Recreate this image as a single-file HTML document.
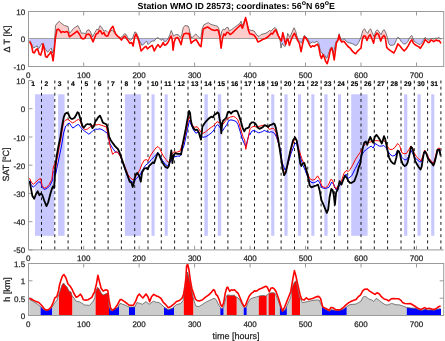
<!DOCTYPE html><html><head><meta charset="utf-8"><style>html,body{margin:0;padding:0;background:#fff;width:445px;height:341px;overflow:hidden}</style></head><body><svg width="445" height="341" viewBox="0 0 445 341" style="display:block;will-change:transform;text-rendering:geometricPrecision;font-family:'Liberation Sans',sans-serif">
<rect width="445" height="341" fill="#fff"/>
<defs>
<clipPath id="cTopPos"><rect x="28.5" y="11.5" width="415.2" height="27.0"/></clipPath>
<clipPath id="cTopNeg"><rect x="28.5" y="38.5" width="415.2" height="28.0"/></clipPath>
<clipPath id="cBot"><rect x="28.5" y="263.5" width="415.2" height="52.0"/></clipPath>
</defs>
<line x1="83.7" y1="66.5" x2="83.7" y2="62.5" stroke="#9a9a9a" stroke-width="1"/>
<line x1="83.7" y1="11.5" x2="83.7" y2="15.5" stroke="#9a9a9a" stroke-width="1"/>
<line x1="139.1" y1="66.5" x2="139.1" y2="62.5" stroke="#9a9a9a" stroke-width="1"/>
<line x1="139.1" y1="11.5" x2="139.1" y2="15.5" stroke="#9a9a9a" stroke-width="1"/>
<line x1="194.6" y1="66.5" x2="194.6" y2="62.5" stroke="#9a9a9a" stroke-width="1"/>
<line x1="194.6" y1="11.5" x2="194.6" y2="15.5" stroke="#9a9a9a" stroke-width="1"/>
<line x1="250.1" y1="66.5" x2="250.1" y2="62.5" stroke="#9a9a9a" stroke-width="1"/>
<line x1="250.1" y1="11.5" x2="250.1" y2="15.5" stroke="#9a9a9a" stroke-width="1"/>
<line x1="305.5" y1="66.5" x2="305.5" y2="62.5" stroke="#9a9a9a" stroke-width="1"/>
<line x1="305.5" y1="11.5" x2="305.5" y2="15.5" stroke="#9a9a9a" stroke-width="1"/>
<line x1="361.0" y1="66.5" x2="361.0" y2="62.5" stroke="#9a9a9a" stroke-width="1"/>
<line x1="361.0" y1="11.5" x2="361.0" y2="15.5" stroke="#9a9a9a" stroke-width="1"/>
<line x1="416.5" y1="66.5" x2="416.5" y2="62.5" stroke="#9a9a9a" stroke-width="1"/>
<line x1="416.5" y1="11.5" x2="416.5" y2="15.5" stroke="#9a9a9a" stroke-width="1"/>
<line x1="28.5" y1="11.5" x2="32.5" y2="11.5" stroke="#9a9a9a" stroke-width="1"/>
<line x1="443.7" y1="11.5" x2="439.7" y2="11.5" stroke="#9a9a9a" stroke-width="1"/>
<line x1="28.5" y1="38.5" x2="32.5" y2="38.5" stroke="#9a9a9a" stroke-width="1"/>
<line x1="443.7" y1="38.5" x2="439.7" y2="38.5" stroke="#9a9a9a" stroke-width="1"/>
<line x1="28.5" y1="66.5" x2="32.5" y2="66.5" stroke="#9a9a9a" stroke-width="1"/>
<line x1="443.7" y1="66.5" x2="439.7" y2="66.5" stroke="#9a9a9a" stroke-width="1"/>
<line x1="83.7" y1="249.9" x2="83.7" y2="245.9" stroke="#9a9a9a" stroke-width="1"/>
<line x1="139.1" y1="249.9" x2="139.1" y2="245.9" stroke="#9a9a9a" stroke-width="1"/>
<line x1="194.6" y1="249.9" x2="194.6" y2="245.9" stroke="#9a9a9a" stroke-width="1"/>
<line x1="250.1" y1="249.9" x2="250.1" y2="245.9" stroke="#9a9a9a" stroke-width="1"/>
<line x1="305.5" y1="249.9" x2="305.5" y2="245.9" stroke="#9a9a9a" stroke-width="1"/>
<line x1="361.0" y1="249.9" x2="361.0" y2="245.9" stroke="#9a9a9a" stroke-width="1"/>
<line x1="416.5" y1="249.9" x2="416.5" y2="245.9" stroke="#9a9a9a" stroke-width="1"/>
<line x1="28.5" y1="80.5" x2="32.5" y2="80.5" stroke="#9a9a9a" stroke-width="1"/>
<line x1="28.5" y1="108.7" x2="32.5" y2="108.7" stroke="#9a9a9a" stroke-width="1"/>
<line x1="28.5" y1="137.0" x2="32.5" y2="137.0" stroke="#9a9a9a" stroke-width="1"/>
<line x1="28.5" y1="165.2" x2="32.5" y2="165.2" stroke="#9a9a9a" stroke-width="1"/>
<line x1="28.5" y1="193.4" x2="32.5" y2="193.4" stroke="#9a9a9a" stroke-width="1"/>
<line x1="28.5" y1="221.7" x2="32.5" y2="221.7" stroke="#9a9a9a" stroke-width="1"/>
<line x1="28.5" y1="249.9" x2="32.5" y2="249.9" stroke="#9a9a9a" stroke-width="1"/>
<line x1="83.7" y1="315.5" x2="83.7" y2="311.5" stroke="#9a9a9a" stroke-width="1"/>
<line x1="83.7" y1="263.5" x2="83.7" y2="267.5" stroke="#9a9a9a" stroke-width="1"/>
<line x1="139.1" y1="315.5" x2="139.1" y2="311.5" stroke="#9a9a9a" stroke-width="1"/>
<line x1="139.1" y1="263.5" x2="139.1" y2="267.5" stroke="#9a9a9a" stroke-width="1"/>
<line x1="194.6" y1="315.5" x2="194.6" y2="311.5" stroke="#9a9a9a" stroke-width="1"/>
<line x1="194.6" y1="263.5" x2="194.6" y2="267.5" stroke="#9a9a9a" stroke-width="1"/>
<line x1="250.1" y1="315.5" x2="250.1" y2="311.5" stroke="#9a9a9a" stroke-width="1"/>
<line x1="250.1" y1="263.5" x2="250.1" y2="267.5" stroke="#9a9a9a" stroke-width="1"/>
<line x1="305.5" y1="315.5" x2="305.5" y2="311.5" stroke="#9a9a9a" stroke-width="1"/>
<line x1="305.5" y1="263.5" x2="305.5" y2="267.5" stroke="#9a9a9a" stroke-width="1"/>
<line x1="361.0" y1="315.5" x2="361.0" y2="311.5" stroke="#9a9a9a" stroke-width="1"/>
<line x1="361.0" y1="263.5" x2="361.0" y2="267.5" stroke="#9a9a9a" stroke-width="1"/>
<line x1="416.5" y1="315.5" x2="416.5" y2="311.5" stroke="#9a9a9a" stroke-width="1"/>
<line x1="416.5" y1="263.5" x2="416.5" y2="267.5" stroke="#9a9a9a" stroke-width="1"/>
<line x1="28.5" y1="263.5" x2="32.5" y2="263.5" stroke="#9a9a9a" stroke-width="1"/>
<line x1="443.7" y1="263.5" x2="439.7" y2="263.5" stroke="#9a9a9a" stroke-width="1"/>
<line x1="28.5" y1="280.8" x2="32.5" y2="280.8" stroke="#9a9a9a" stroke-width="1"/>
<line x1="443.7" y1="280.8" x2="439.7" y2="280.8" stroke="#9a9a9a" stroke-width="1"/>
<line x1="28.5" y1="298.2" x2="32.5" y2="298.2" stroke="#9a9a9a" stroke-width="1"/>
<line x1="443.7" y1="298.2" x2="439.7" y2="298.2" stroke="#9a9a9a" stroke-width="1"/>
<line x1="28.5" y1="315.5" x2="32.5" y2="315.5" stroke="#9a9a9a" stroke-width="1"/>
<line x1="443.7" y1="315.5" x2="439.7" y2="315.5" stroke="#9a9a9a" stroke-width="1"/>
<polygon points="29.5,38.5 29.5,40.3 30.1,41.0 32.2,45.3 33.6,48.1 35.7,46.7 37.2,46.0 38.6,48.8 40.0,46.7 42.1,43.2 43.5,45.3 45.6,49.5 47.7,52.3 49.8,49.5 51.2,48.1 52.6,53.0 54.1,48.8 55.5,25.6 57.6,22.7 59.3,21.3 60.7,22.7 62.5,24.2 64.6,25.6 68.0,26.5 69.4,33.3 70.8,31.9 73.6,28.4 75.7,27.0 77.9,25.6 80.0,29.8 81.4,33.3 83.5,33.0 85.6,34.0 87.0,30.5 89.1,29.8 90.5,31.9 92.6,36.8 94.8,32.6 96.9,29.1 98.3,29.8 100.1,25.6 101.8,27.7 103.9,31.2 106.0,30.5 108.0,32.5 110.1,31.9 112.2,29.8 114.3,32.6 116.5,35.4 118.6,36.8 120.7,37.5 122.8,36.1 124.6,33.6 126.3,34.7 128.4,38.9 130.5,40.4 132.6,38.2 134.8,31.9 136.2,32.6 137.9,36.1 139.7,41.1 141.8,45.3 143.9,43.9 145.3,42.5 146.7,41.1 148.0,44.6 150.1,42.5 152.2,41.1 154.3,41.1 155.7,38.9 157.6,37.5 159.3,38.7 161.0,40.4 162.8,38.9 164.6,41.8 166.3,41.1 168.4,38.2 169.8,34.7 171.2,30.5 172.2,32.6 173.4,36.1 175.5,34.7 178.3,34.7 180.4,37.5 181.8,34.7 183.2,27.7 184.9,25.6 188.0,26.0 189.1,28.4 190.1,33.3 191.5,38.2 193.6,36.1 195.7,34.0 197.2,35.4 199.0,37.5 200.7,38.9 202.1,29.1 203.8,24.9 206.3,23.5 208.4,22.7 210.5,24.2 212.6,24.9 215.5,25.6 217.6,26.3 219.0,29.1 220.4,37.5 221.8,31.2 223.2,29.1 224.9,29.8 226.3,27.7 228.0,27.3 229.4,31.0 231.5,29.6 234.3,27.5 237.2,25.4 240.0,23.3 241.0,21.2 242.1,25.4 243.8,22.6 245.6,18.3 247.0,23.3 248.8,29.6 251.2,30.3 254.1,31.0 256.9,35.2 259.0,36.6 261.1,34.5 263.9,33.8 266.0,33.1 268.0,32.0 269.4,30.5 271.1,31.2 272.9,29.1 275.0,27.4 276.5,29.1 278.1,34.7 280.0,39.6 281.0,48.1 282.1,43.2 283.5,45.3 284.9,46.7 286.3,41.8 287.7,33.3 289.8,37.5 291.9,32.6 294.1,27.7 295.9,31.9 297.9,39.6 299.7,41.1 301.5,43.2 302.9,38.9 304.3,35.4 306.0,36.8 308.0,39.3 310.2,43.4 312.5,41.9 314.7,42.7 317.0,41.2 318.8,43.4 320.3,50.9 321.8,53.2 323.3,53.9 324.8,55.4 326.7,58.4 328.2,54.7 330.5,47.9 332.0,47.2 333.4,53.9 334.9,46.4 336.4,41.2 337.9,39.7 339.1,33.7 340.6,39.0 342.4,40.4 343.9,38.7 346.2,41.2 348.0,42.6 350.8,43.2 352.9,43.9 355.0,45.3 356.7,45.3 358.6,42.5 360.7,38.2 362.8,30.5 364.6,28.8 366.3,31.9 367.7,33.3 369.1,30.5 370.5,28.8 371.9,31.9 374.1,36.8 375.7,31.2 377.6,29.8 379.0,31.9 381.1,34.7 382.9,30.5 384.3,29.8 386.0,33.3 387.4,37.5 388.5,43.0 390.1,45.3 392.2,45.3 394.3,44.6 396.5,39.6 397.9,37.3 399.3,38.2 401.4,41.8 403.5,43.9 405.6,43.9 407.7,41.8 409.8,37.5 411.7,35.4 412.9,38.2 414.2,41.3 416.0,42.6 417.7,43.5 419.9,44.8 421.7,43.0 423.4,40.4 425.2,37.3 426.5,38.6 427.8,39.5 429.2,40.4 430.5,39.1 432.2,38.6 434.0,39.1 435.8,38.2 437.5,38.2 438.8,37.3 439.7,38.2 440.8,39.5 440.8,38.5" fill="#ffcccc" clip-path="url(#cTopPos)"/>
<polygon points="29.5,38.5 29.5,40.3 30.1,41.0 32.2,45.3 33.6,48.1 35.7,46.7 37.2,46.0 38.6,48.8 40.0,46.7 42.1,43.2 43.5,45.3 45.6,49.5 47.7,52.3 49.8,49.5 51.2,48.1 52.6,53.0 54.1,48.8 55.5,25.6 57.6,22.7 59.3,21.3 60.7,22.7 62.5,24.2 64.6,25.6 68.0,26.5 69.4,33.3 70.8,31.9 73.6,28.4 75.7,27.0 77.9,25.6 80.0,29.8 81.4,33.3 83.5,33.0 85.6,34.0 87.0,30.5 89.1,29.8 90.5,31.9 92.6,36.8 94.8,32.6 96.9,29.1 98.3,29.8 100.1,25.6 101.8,27.7 103.9,31.2 106.0,30.5 108.0,32.5 110.1,31.9 112.2,29.8 114.3,32.6 116.5,35.4 118.6,36.8 120.7,37.5 122.8,36.1 124.6,33.6 126.3,34.7 128.4,38.9 130.5,40.4 132.6,38.2 134.8,31.9 136.2,32.6 137.9,36.1 139.7,41.1 141.8,45.3 143.9,43.9 145.3,42.5 146.7,41.1 148.0,44.6 150.1,42.5 152.2,41.1 154.3,41.1 155.7,38.9 157.6,37.5 159.3,38.7 161.0,40.4 162.8,38.9 164.6,41.8 166.3,41.1 168.4,38.2 169.8,34.7 171.2,30.5 172.2,32.6 173.4,36.1 175.5,34.7 178.3,34.7 180.4,37.5 181.8,34.7 183.2,27.7 184.9,25.6 188.0,26.0 189.1,28.4 190.1,33.3 191.5,38.2 193.6,36.1 195.7,34.0 197.2,35.4 199.0,37.5 200.7,38.9 202.1,29.1 203.8,24.9 206.3,23.5 208.4,22.7 210.5,24.2 212.6,24.9 215.5,25.6 217.6,26.3 219.0,29.1 220.4,37.5 221.8,31.2 223.2,29.1 224.9,29.8 226.3,27.7 228.0,27.3 229.4,31.0 231.5,29.6 234.3,27.5 237.2,25.4 240.0,23.3 241.0,21.2 242.1,25.4 243.8,22.6 245.6,18.3 247.0,23.3 248.8,29.6 251.2,30.3 254.1,31.0 256.9,35.2 259.0,36.6 261.1,34.5 263.9,33.8 266.0,33.1 268.0,32.0 269.4,30.5 271.1,31.2 272.9,29.1 275.0,27.4 276.5,29.1 278.1,34.7 280.0,39.6 281.0,48.1 282.1,43.2 283.5,45.3 284.9,46.7 286.3,41.8 287.7,33.3 289.8,37.5 291.9,32.6 294.1,27.7 295.9,31.9 297.9,39.6 299.7,41.1 301.5,43.2 302.9,38.9 304.3,35.4 306.0,36.8 308.0,39.3 310.2,43.4 312.5,41.9 314.7,42.7 317.0,41.2 318.8,43.4 320.3,50.9 321.8,53.2 323.3,53.9 324.8,55.4 326.7,58.4 328.2,54.7 330.5,47.9 332.0,47.2 333.4,53.9 334.9,46.4 336.4,41.2 337.9,39.7 339.1,33.7 340.6,39.0 342.4,40.4 343.9,38.7 346.2,41.2 348.0,42.6 350.8,43.2 352.9,43.9 355.0,45.3 356.7,45.3 358.6,42.5 360.7,38.2 362.8,30.5 364.6,28.8 366.3,31.9 367.7,33.3 369.1,30.5 370.5,28.8 371.9,31.9 374.1,36.8 375.7,31.2 377.6,29.8 379.0,31.9 381.1,34.7 382.9,30.5 384.3,29.8 386.0,33.3 387.4,37.5 388.5,43.0 390.1,45.3 392.2,45.3 394.3,44.6 396.5,39.6 397.9,37.3 399.3,38.2 401.4,41.8 403.5,43.9 405.6,43.9 407.7,41.8 409.8,37.5 411.7,35.4 412.9,38.2 414.2,41.3 416.0,42.6 417.7,43.5 419.9,44.8 421.7,43.0 423.4,40.4 425.2,37.3 426.5,38.6 427.8,39.5 429.2,40.4 430.5,39.1 432.2,38.6 434.0,39.1 435.8,38.2 437.5,38.2 438.8,37.3 439.7,38.2 440.8,39.5 440.8,38.5" fill="#c8c8ff" clip-path="url(#cTopNeg)"/>
<line x1="28.5" y1="38.5" x2="443.7" y2="38.5" stroke="#a0a0a0" stroke-width="1"/>
<polyline points="29.5,40.3 30.1,41.0 32.2,45.3 33.6,48.1 35.7,46.7 37.2,46.0 38.6,48.8 40.0,46.7 42.1,43.2 43.5,45.3 45.6,49.5 47.7,52.3 49.8,49.5 51.2,48.1 52.6,53.0 54.1,48.8 55.5,25.6 57.6,22.7 59.3,21.3 60.7,22.7 62.5,24.2 64.6,25.6 68.0,26.5 69.4,33.3 70.8,31.9 73.6,28.4 75.7,27.0 77.9,25.6 80.0,29.8 81.4,33.3 83.5,33.0 85.6,34.0 87.0,30.5 89.1,29.8 90.5,31.9 92.6,36.8 94.8,32.6 96.9,29.1 98.3,29.8 100.1,25.6 101.8,27.7 103.9,31.2 106.0,30.5 108.0,32.5 110.1,31.9 112.2,29.8 114.3,32.6 116.5,35.4 118.6,36.8 120.7,37.5 122.8,36.1 124.6,33.6 126.3,34.7 128.4,38.9 130.5,40.4 132.6,38.2 134.8,31.9 136.2,32.6 137.9,36.1 139.7,41.1 141.8,45.3 143.9,43.9 145.3,42.5 146.7,41.1 148.0,44.6 150.1,42.5 152.2,41.1 154.3,41.1 155.7,38.9 157.6,37.5 159.3,38.7 161.0,40.4 162.8,38.9 164.6,41.8 166.3,41.1 168.4,38.2 169.8,34.7 171.2,30.5 172.2,32.6 173.4,36.1 175.5,34.7 178.3,34.7 180.4,37.5 181.8,34.7 183.2,27.7 184.9,25.6 188.0,26.0 189.1,28.4 190.1,33.3 191.5,38.2 193.6,36.1 195.7,34.0 197.2,35.4 199.0,37.5 200.7,38.9 202.1,29.1 203.8,24.9 206.3,23.5 208.4,22.7 210.5,24.2 212.6,24.9 215.5,25.6 217.6,26.3 219.0,29.1 220.4,37.5 221.8,31.2 223.2,29.1 224.9,29.8 226.3,27.7 228.0,27.3 229.4,31.0 231.5,29.6 234.3,27.5 237.2,25.4 240.0,23.3 241.0,21.2 242.1,25.4 243.8,22.6 245.6,18.3 247.0,23.3 248.8,29.6 251.2,30.3 254.1,31.0 256.9,35.2 259.0,36.6 261.1,34.5 263.9,33.8 266.0,33.1 268.0,32.0 269.4,30.5 271.1,31.2 272.9,29.1 275.0,27.4 276.5,29.1 278.1,34.7 280.0,39.6 281.0,48.1 282.1,43.2 283.5,45.3 284.9,46.7 286.3,41.8 287.7,33.3 289.8,37.5 291.9,32.6 294.1,27.7 295.9,31.9 297.9,39.6 299.7,41.1 301.5,43.2 302.9,38.9 304.3,35.4 306.0,36.8 308.0,39.3 310.2,43.4 312.5,41.9 314.7,42.7 317.0,41.2 318.8,43.4 320.3,50.9 321.8,53.2 323.3,53.9 324.8,55.4 326.7,58.4 328.2,54.7 330.5,47.9 332.0,47.2 333.4,53.9 334.9,46.4 336.4,41.2 337.9,39.7 339.1,33.7 340.6,39.0 342.4,40.4 343.9,38.7 346.2,41.2 348.0,42.6 350.8,43.2 352.9,43.9 355.0,45.3 356.7,45.3 358.6,42.5 360.7,38.2 362.8,30.5 364.6,28.8 366.3,31.9 367.7,33.3 369.1,30.5 370.5,28.8 371.9,31.9 374.1,36.8 375.7,31.2 377.6,29.8 379.0,31.9 381.1,34.7 382.9,30.5 384.3,29.8 386.0,33.3 387.4,37.5 388.5,43.0 390.1,45.3 392.2,45.3 394.3,44.6 396.5,39.6 397.9,37.3 399.3,38.2 401.4,41.8 403.5,43.9 405.6,43.9 407.7,41.8 409.8,37.5 411.7,35.4 412.9,38.2 414.2,41.3 416.0,42.6 417.7,43.5 419.9,44.8 421.7,43.0 423.4,40.4 425.2,37.3 426.5,38.6 427.8,39.5 429.2,40.4 430.5,39.1 432.2,38.6 434.0,39.1 435.8,38.2 437.5,38.2 438.8,37.3 439.7,38.2 440.8,39.5" fill="none" stroke="#555" stroke-width="0.8" stroke-linejoin="round"/>
<polyline points="29.5,41.5 30.1,42.5 31.5,45.3 32.9,52.3 34.3,53.0 35.7,50.2 37.2,48.8 38.1,50.2 39.3,54.4 40.7,55.1 42.1,50.2 43.1,43.9 44.2,48.8 45.6,56.5 47.0,57.3 48.4,55.1 49.8,53.7 50.8,51.6 51.9,54.4 53.1,60.8 54.1,51.6 55.5,37.5 56.9,29.8 58.3,29.1 59.7,30.5 61.1,32.6 62.5,31.6 64.6,32.2 66.7,31.6 68.0,32.2 69.4,36.8 71.5,35.4 74.3,33.3 77.2,31.2 79.3,34.0 81.4,38.2 83.5,38.9 84.9,38.2 86.3,34.7 88.4,34.0 90.3,35.4 91.7,38.9 93.1,41.8 94.8,37.5 96.2,34.0 97.9,33.3 99.3,30.5 100.7,31.2 102.1,34.0 103.9,32.6 105.3,35.4 106.7,36.1 108.0,35.8 109.4,31.9 111.1,28.4 112.9,26.3 114.3,30.5 115.7,34.0 117.6,36.1 119.3,37.5 121.4,40.1 123.2,37.5 124.9,36.1 126.3,38.2 128.4,41.1 129.8,43.2 131.7,42.5 133.1,46.0 134.5,37.5 135.9,34.0 137.3,36.8 139.0,41.8 141.1,50.9 142.5,49.5 144.3,47.4 146.0,46.3 147.4,48.8 150.1,46.7 152.2,45.3 154.3,50.9 156.5,46.7 158.1,44.6 160.0,47.4 161.8,45.3 163.2,42.5 164.6,45.3 166.3,44.6 168.4,41.8 169.8,38.2 171.2,36.1 172.2,39.6 173.1,50.2 174.1,42.5 175.5,38.2 177.6,37.5 179.0,39.6 181.1,44.6 182.5,37.5 183.9,34.0 186.0,33.3 188.0,33.8 189.1,33.3 190.1,38.2 191.1,43.2 192.5,41.8 194.3,40.4 196.2,39.6 197.9,42.5 199.5,45.3 201.0,46.7 202.1,37.5 203.2,29.1 205.6,27.7 207.7,27.0 209.8,28.4 211.9,29.8 214.8,30.5 216.9,29.8 218.3,30.5 219.7,36.1 221.1,48.1 222.5,38.2 223.9,34.0 225.3,35.4 226.7,32.6 228.0,32.2 230.1,34.5 232.2,33.1 235.0,30.3 237.9,27.5 240.7,24.7 242.4,28.2 243.8,24.0 245.6,17.6 247.0,23.3 248.4,30.3 249.8,33.8 251.9,34.3 254.1,35.2 256.2,38.1 257.9,41.9 259.7,41.3 262.5,39.5 265.3,38.5 268.0,36.8 269.4,35.4 271.1,33.3 272.5,34.0 274.3,31.2 275.7,29.8 276.7,31.9 278.1,35.4 280.0,38.9 281.4,41.1 282.8,32.6 284.2,38.2 285.6,44.6 287.0,39.6 288.0,38.9 289.4,45.3 291.2,39.6 293.1,35.4 294.5,33.3 295.9,36.1 297.6,40.4 299.3,43.2 301.1,51.6 302.5,44.6 304.3,36.8 306.0,38.2 308.0,41.5 309.5,44.9 311.0,47.2 312.5,45.7 314.3,46.4 316.2,44.9 317.7,44.2 318.8,47.2 320.3,55.4 321.5,58.4 323.0,54.7 324.5,57.7 325.7,61.4 327.2,63.7 328.7,58.4 330.2,50.9 331.7,47.9 332.7,50.9 334.2,59.9 335.2,52.4 336.4,42.7 337.9,40.4 339.1,35.2 340.2,39.7 341.7,42.0 343.9,41.2 346.2,44.2 348.0,46.5 350.1,48.1 352.2,50.9 354.3,53.0 355.7,53.7 357.2,51.6 359.3,49.5 361.0,48.1 362.1,40.4 363.5,36.1 365.2,36.1 367.0,40.4 368.8,36.1 370.3,34.7 371.7,38.2 373.6,43.2 375.0,36.1 376.9,33.0 378.7,34.7 380.7,41.1 382.1,37.5 383.9,35.4 385.3,37.5 386.7,47.4 388.0,48.8 390.8,50.9 393.9,53.0 395.7,49.5 397.9,43.9 400.0,46.0 402.1,48.8 404.2,50.9 406.3,48.8 408.4,45.3 410.3,41.8 411.9,39.6 413.3,43.0 415.1,44.8 416.8,45.7 418.6,46.6 420.4,48.3 421.7,46.1 423.4,43.5 425.2,39.5 426.5,40.8 428.3,42.6 429.6,42.2 430.9,40.0 432.2,40.4 433.6,41.7 434.9,40.8 436.2,40.0 437.5,40.8 438.8,40.4 440.0,41.7 440.9,43.5" fill="none" stroke="#ff0000" stroke-width="1.6" stroke-linejoin="round"/>
<rect x="35" y="94.3" width="19.3" height="141.5" fill="#c8c8ff"/>
<rect x="58.1" y="94.3" width="6.5" height="141.5" fill="#c8c8ff"/>
<rect x="124.9" y="94.3" width="16.1" height="141.5" fill="#c8c8ff"/>
<rect x="151.5" y="94.3" width="3.1" height="141.5" fill="#c8c8ff"/>
<rect x="164.7" y="94.3" width="3.0" height="141.5" fill="#c8c8ff"/>
<rect x="204.4" y="94.3" width="3.4" height="141.5" fill="#c8c8ff"/>
<rect x="217.8" y="94.3" width="3.4" height="141.5" fill="#c8c8ff"/>
<rect x="271.2" y="94.3" width="3.1" height="141.5" fill="#c8c8ff"/>
<rect x="284.4" y="94.3" width="3.2" height="141.5" fill="#c8c8ff"/>
<rect x="298" y="94.3" width="3.0" height="141.5" fill="#c8c8ff"/>
<rect x="311.3" y="94.3" width="3.1" height="141.5" fill="#c8c8ff"/>
<rect x="324.3" y="94.3" width="3.3" height="141.5" fill="#c8c8ff"/>
<rect x="338" y="94.3" width="3.0" height="141.5" fill="#c8c8ff"/>
<rect x="351.2" y="94.3" width="16.4" height="141.5" fill="#c8c8ff"/>
<rect x="404.1" y="94.3" width="3.2" height="141.5" fill="#c8c8ff"/>
<rect x="417.5" y="94.3" width="3.2" height="141.5" fill="#c8c8ff"/>
<rect x="431.2" y="94.3" width="3.1" height="141.5" fill="#c8c8ff"/>
<line x1="41.5" y1="80.5" x2="41.5" y2="249.9" stroke="#1a1a1a" stroke-width="1" stroke-dasharray="2.9,3.25"/>
<line x1="54.8" y1="80.5" x2="54.8" y2="249.9" stroke="#1a1a1a" stroke-width="1" stroke-dasharray="2.9,3.25"/>
<line x1="68.1" y1="80.5" x2="68.1" y2="249.9" stroke="#1a1a1a" stroke-width="1" stroke-dasharray="2.9,3.25"/>
<line x1="81.5" y1="80.5" x2="81.5" y2="249.9" stroke="#1a1a1a" stroke-width="1" stroke-dasharray="2.9,3.25"/>
<line x1="94.8" y1="80.5" x2="94.8" y2="249.9" stroke="#1a1a1a" stroke-width="1" stroke-dasharray="2.9,3.25"/>
<line x1="108.1" y1="80.5" x2="108.1" y2="249.9" stroke="#1a1a1a" stroke-width="1" stroke-dasharray="2.9,3.25"/>
<line x1="121.4" y1="80.5" x2="121.4" y2="249.9" stroke="#1a1a1a" stroke-width="1" stroke-dasharray="2.9,3.25"/>
<line x1="134.7" y1="80.5" x2="134.7" y2="249.9" stroke="#1a1a1a" stroke-width="1" stroke-dasharray="2.9,3.25"/>
<line x1="148.0" y1="80.5" x2="148.0" y2="249.9" stroke="#1a1a1a" stroke-width="1" stroke-dasharray="2.9,3.25"/>
<line x1="161.3" y1="80.5" x2="161.3" y2="249.9" stroke="#1a1a1a" stroke-width="1" stroke-dasharray="2.9,3.25"/>
<line x1="174.6" y1="80.5" x2="174.6" y2="249.9" stroke="#1a1a1a" stroke-width="1" stroke-dasharray="2.9,3.25"/>
<line x1="188.0" y1="80.5" x2="188.0" y2="249.9" stroke="#1a1a1a" stroke-width="1" stroke-dasharray="2.9,3.25"/>
<line x1="201.3" y1="80.5" x2="201.3" y2="249.9" stroke="#1a1a1a" stroke-width="1" stroke-dasharray="2.9,3.25"/>
<line x1="214.6" y1="80.5" x2="214.6" y2="249.9" stroke="#1a1a1a" stroke-width="1" stroke-dasharray="2.9,3.25"/>
<line x1="227.9" y1="80.5" x2="227.9" y2="249.9" stroke="#1a1a1a" stroke-width="1" stroke-dasharray="2.9,3.25"/>
<line x1="241.2" y1="80.5" x2="241.2" y2="249.9" stroke="#1a1a1a" stroke-width="1" stroke-dasharray="2.9,3.25"/>
<line x1="254.5" y1="80.5" x2="254.5" y2="249.9" stroke="#1a1a1a" stroke-width="1" stroke-dasharray="2.9,3.25"/>
<line x1="267.8" y1="80.5" x2="267.8" y2="249.9" stroke="#1a1a1a" stroke-width="1" stroke-dasharray="2.9,3.25"/>
<line x1="281.1" y1="80.5" x2="281.1" y2="249.9" stroke="#1a1a1a" stroke-width="1" stroke-dasharray="2.9,3.25"/>
<line x1="294.5" y1="80.5" x2="294.5" y2="249.9" stroke="#1a1a1a" stroke-width="1" stroke-dasharray="2.9,3.25"/>
<line x1="307.8" y1="80.5" x2="307.8" y2="249.9" stroke="#1a1a1a" stroke-width="1" stroke-dasharray="2.9,3.25"/>
<line x1="321.1" y1="80.5" x2="321.1" y2="249.9" stroke="#1a1a1a" stroke-width="1" stroke-dasharray="2.9,3.25"/>
<line x1="334.4" y1="80.5" x2="334.4" y2="249.9" stroke="#1a1a1a" stroke-width="1" stroke-dasharray="2.9,3.25"/>
<line x1="347.7" y1="80.5" x2="347.7" y2="249.9" stroke="#1a1a1a" stroke-width="1" stroke-dasharray="2.9,3.25"/>
<line x1="361.0" y1="80.5" x2="361.0" y2="249.9" stroke="#1a1a1a" stroke-width="1" stroke-dasharray="2.9,3.25"/>
<line x1="374.3" y1="80.5" x2="374.3" y2="249.9" stroke="#1a1a1a" stroke-width="1" stroke-dasharray="2.9,3.25"/>
<line x1="387.6" y1="80.5" x2="387.6" y2="249.9" stroke="#1a1a1a" stroke-width="1" stroke-dasharray="2.9,3.25"/>
<line x1="401.0" y1="80.5" x2="401.0" y2="249.9" stroke="#1a1a1a" stroke-width="1" stroke-dasharray="2.9,3.25"/>
<line x1="414.3" y1="80.5" x2="414.3" y2="249.9" stroke="#1a1a1a" stroke-width="1" stroke-dasharray="2.9,3.25"/>
<line x1="427.6" y1="80.5" x2="427.6" y2="249.9" stroke="#1a1a1a" stroke-width="1" stroke-dasharray="2.9,3.25"/>
<line x1="440.9" y1="80.5" x2="440.9" y2="249.9" stroke="#1a1a1a" stroke-width="1" stroke-dasharray="2.9,3.25"/>
<polyline points="29.6,180.6 31.2,184.6 33.3,187.3 35.9,184.6 38.6,182.0 40.7,182.0 42.1,187.3 44.2,189.6 47.4,188.2 50.0,185.5 52.6,180.2 53.0,172.3 54.8,170.6 55.7,174.1 57.5,165.3 60.1,152.9 61.7,145.0 63.6,133.0 65.7,126.0 67.8,124.0 69.3,122.9 70.9,125.5 72.9,128.1 75.0,126.5 77.0,125.0 78.6,124.5 80.1,126.5 82.2,129.1 84.7,131.2 86.8,132.7 88.8,134.2 90.9,132.7 92.9,130.6 95.5,129.1 97.5,129.3 100.0,128.8 102.0,129.6 104.7,131.4 107.3,133.2 110.0,143.7 112.6,148.1 115.2,151.7 117.9,152.5 120.5,156.1 122.6,162.3 125.3,170.2 127.9,177.3 130.6,180.8 133.2,182.6 135.8,179.0 138.5,176.4 140.0,175.1 142.8,169.4 145.6,165.2 148.5,163.1 151.3,159.6 154.1,156.8 156.6,153.9 158.0,152.5 159.7,155.4 162.5,160.3 165.4,164.5 167.5,165.9 169.6,163.1 171.7,159.6 174.5,156.8 177.3,156.1 180.0,156.1 184.2,144.9 187.1,130.8 189.5,120.2 191.2,124.9 193.6,130.2 195.9,133.2 198.3,132.0 200.0,134.9 201.2,136.1 203.0,137.3 205.9,136.7 208.8,134.9 212.4,132.0 214.0,129.9 215.8,126.4 217.5,124.6 219.3,126.4 221.0,129.3 222.4,131.1 224.6,127.6 226.9,124.6 228.7,120.5 231.0,119.9 233.9,120.5 236.3,121.7 238.0,124.6 239.8,130.5 241.6,136.4 242.7,140.0 244.1,143.1 245.8,146.7 247.6,139.6 249.4,133.5 250.0,134.6 251.8,131.1 254.1,130.5 256.5,131.7 258.8,132.9 260.6,132.3 262.3,131.7 264.1,130.5 265.8,131.1 267.6,131.7 269.4,132.3 271.1,131.7 272.9,132.3 274.6,133.5 276.4,137.0 278.7,144.0 280.7,150.0 282.0,162.0 285.0,170.0 287.6,165.5 291.1,153.2 294.6,144.4 296.4,142.6 298.2,149.6 300.8,158.5 302.6,164.4 305.3,170.6 307.9,177.6 310.6,182.0 313.2,182.9 315.8,182.0 318.0,180.2 319.7,182.9 322.0,187.8 325.5,188.5 329.0,187.3 331.7,182.0 333.8,184.6 336.1,189.9 338.7,186.4 341.4,183.8 344.0,177.6 346.1,174.1 348.2,178.4 351.7,175.8 355.2,168.7 358.8,161.7 360.0,159.3 362.0,154.7 364.0,151.4 366.6,149.4 369.2,147.4 371.2,146.1 373.2,148.1 375.2,143.5 377.2,144.8 379.1,146.1 381.8,146.1 383.8,145.5 385.7,147.4 387.7,150.7 389.7,154.0 392.3,156.0 395.0,155.4 397.6,150.7 399.6,152.1 400.0,153.2 401.8,157.3 404.1,159.6 406.4,159.9 408.8,156.1 410.8,150.2 412.3,152.6 414.7,157.3 417.0,159.6 419.3,161.4 421.1,162.0 422.9,156.7 424.6,151.4 426.4,153.8 428.7,158.4 431.1,161.4 433.4,164.3 435.2,158.4 437.5,151.4 439.3,150.2 440.6,152.6" fill="none" stroke="#0000ff" stroke-width="1" stroke-linejoin="round"/>
<polyline points="29.6,178.2 31.2,182.0 33.3,184.3 35.9,182.0 38.6,179.4 40.7,178.5 42.1,185.5 44.2,188.2 46.5,187.3 49.1,184.6 51.8,179.4 53.4,167.0 54.8,163.5 55.7,167.9 56.9,160.0 59.2,147.6 61.0,138.0 62.5,128.0 63.7,121.9 65.2,120.4 67.3,119.4 68.8,119.9 70.4,121.4 72.4,122.9 74.5,121.9 76.5,120.4 78.6,119.4 80.1,120.9 81.6,125.0 83.2,128.1 85.2,129.6 87.3,129.1 89.3,127.6 91.4,126.0 93.4,125.0 95.5,124.5 95.8,125.2 98.5,124.4 101.2,125.2 103.8,126.1 106.4,127.0 108.2,135.8 110.0,145.5 112.6,154.3 114.7,152.5 117.0,151.7 119.6,155.2 122.3,160.6 125.3,167.6 127.9,174.6 130.6,178.2 133.2,179.9 135.8,176.4 138.5,172.0 140.0,169.4 142.1,163.8 144.2,160.3 146.3,159.6 148.2,160.7 149.9,156.8 152.0,153.2 154.1,150.4 156.2,147.6 158.0,146.6 159.7,148.3 161.8,153.2 163.9,156.8 166.1,159.6 168.2,162.4 169.9,161.0 171.7,154.6 173.8,151.8 176.6,152.3 180.0,151.1 182.3,144.9 183.0,144.9 186.0,130.8 188.3,120.2 189.5,116.7 190.7,120.2 192.4,125.5 194.8,127.3 197.1,126.7 198.9,129.0 200.6,132.0 202.4,133.7 205.3,132.0 208.3,129.6 211.2,127.3 213.5,126.1 214.0,125.2 215.8,122.9 217.5,121.7 219.3,122.9 221.0,124.0 222.2,125.2 224.0,122.9 225.7,120.5 228.1,118.2 230.4,117.0 233.4,116.4 235.7,117.6 237.5,119.4 239.2,123.5 241.0,130.5 243.3,137.5 244.7,140.0 245.8,149.3 247.6,140.5 249.4,131.7 250.0,128.8 251.8,127.0 254.1,126.4 256.5,127.0 258.8,126.4 261.1,125.8 263.5,125.2 265.8,125.8 267.6,127.0 269.4,129.4 271.1,128.8 272.9,128.2 274.6,129.4 275.8,132.3 277.6,139.3 279.9,150.0 282.3,165.5 284.4,174.3 286.7,169.0 289.4,156.7 292.0,146.1 294.6,139.1 296.4,140.0 299.0,149.6 301.7,158.5 304.3,164.0 307.0,172.0 309.7,178.5 312.3,180.2 315.0,179.4 317.6,175.8 319.7,179.4 322.0,186.4 325.5,187.8 328.2,185.5 330.8,179.4 332.6,180.2 334.3,186.4 336.1,189.0 338.7,184.6 341.4,181.1 344.0,173.2 346.1,170.6 348.4,171.4 350.0,169.6 352.6,165.2 355.2,159.9 357.9,155.5 360.0,152.7 362.0,148.8 364.0,145.5 365.9,143.5 367.9,142.8 369.9,142.2 371.9,141.5 373.9,140.8 375.8,140.6 378.5,140.8 381.1,141.5 383.8,140.8 385.7,142.2 387.7,146.8 389.7,149.4 392.3,149.4 395.0,147.4 397.6,143.5 399.6,145.5 400.0,146.7 401.8,152.6 404.1,153.8 406.4,153.5 408.8,149.7 410.8,146.1 412.3,147.9 414.1,152.6 416.4,156.7 418.8,159.0 421.1,160.8 422.9,155.5 424.6,150.2 426.4,152.6 428.7,157.9 431.1,160.8 433.4,163.7 435.2,157.9 436.9,150.2 438.7,147.9 440.6,149.1" fill="none" stroke="#ff0000" stroke-width="1" stroke-linejoin="round"/>
<polyline points="29.6,181.1 30.6,186.4 32.4,196.1 34.2,198.7 35.9,194.3 37.7,191.3 39.4,195.2 41.2,193.4 42.4,195.2 44.2,200.5 46.5,206.1 48.2,202.3 50.0,195.2 51.8,189.0 53.0,186.4 54.1,188.0 54.8,178.0 55.4,166.0 56.5,157.0 58.7,145.0 60.3,137.5 62.2,125.5 63.7,117.3 65.2,113.7 66.8,112.7 68.3,113.7 69.8,117.3 71.4,118.8 72.9,118.8 74.5,117.8 76.0,115.3 77.5,112.2 78.6,112.7 79.6,116.3 81.1,121.4 82.5,126.0 83.7,127.6 84.7,126.5 86.3,124.5 87.8,124.0 89.3,124.5 90.4,124.0 91.4,125.5 92.4,128.1 93.4,127.0 94.5,124.5 95.5,120.4 96.1,120.8 97.6,118.2 99.9,115.6 101.2,118.2 102.9,122.6 104.7,123.5 106.4,124.4 107.7,127.9 109.1,136.7 110.8,140.2 112.6,142.9 115.2,146.4 117.9,149.0 119.6,152.5 121.4,157.8 122.6,161.4 125.3,169.4 127.9,176.4 129.7,181.7 131.4,182.6 132.7,187.0 133.7,183.5 135.5,174.6 137.3,172.9 139.0,175.5 140.8,181.7 142.1,172.3 144.2,168.7 146.3,168.0 147.7,169.4 149.2,165.9 151.3,163.8 152.7,162.4 154.1,163.1 155.8,158.2 157.6,153.2 159.0,154.6 161.1,159.6 163.2,163.8 165.4,166.9 167.5,168.0 168.9,165.9 170.3,158.2 171.3,150.4 172.4,163.1 173.5,155.4 175.2,153.2 177.3,153.9 180.0,153.9 181.1,154.6 182.5,144.9 185.4,130.8 187.7,117.9 189.1,110.9 190.1,113.2 190.7,119.1 191.8,124.9 193.6,128.5 195.4,130.2 197.1,129.6 198.9,132.6 200.0,136.7 201.0,139.6 201.6,134.3 202.4,126.7 204.2,123.8 206.5,120.8 208.8,118.5 211.2,116.7 213.0,117.3 214.0,115.2 215.8,114.1 217.5,112.3 218.7,113.5 219.6,118.8 220.5,123.5 221.3,133.4 222.2,123.5 223.1,120.5 224.6,119.4 226.3,117.6 227.8,112.3 229.2,111.7 231.0,113.5 232.8,111.7 234.5,111.1 236.3,110.6 237.5,111.7 239.2,116.4 241.0,121.7 242.7,128.2 244.3,131.4 245.7,128.7 247.4,128.2 249.2,127.0 250.0,124.1 251.8,122.3 253.5,122.3 255.3,123.5 256.5,125.2 257.6,127.6 259.4,128.8 261.1,128.2 262.9,127.0 264.7,125.2 266.4,125.8 268.2,127.0 269.9,125.2 271.7,124.7 273.5,123.5 274.6,124.1 275.8,127.6 277.0,133.5 278.2,139.3 279.9,150.0 282.7,169.0 284.1,175.2 285.8,172.5 287.6,163.7 290.2,151.4 292.9,140.8 295.0,137.3 296.8,140.8 298.5,151.4 300.3,163.7 301.3,166.0 302.6,163.7 304.3,163.0 306.1,169.0 307.9,176.0 309.7,185.5 311.4,187.3 313.7,186.4 316.2,185.5 318.0,184.6 319.7,190.8 321.5,200.5 323.2,204.0 325.0,208.4 326.8,212.8 328.2,209.3 329.6,197.0 331.3,189.0 332.6,189.9 333.8,195.2 334.9,204.9 336.1,192.6 337.9,189.0 339.6,181.1 341.4,184.6 343.1,180.2 344.9,175.8 346.7,177.6 348.4,181.1 350.0,182.9 351.7,182.8 354.4,181.0 357.0,174.0 358.8,167.0 360.0,164.6 361.3,156.7 362.6,148.8 364.2,142.8 365.9,141.5 367.3,144.8 368.6,140.8 370.3,136.9 371.9,140.8 373.2,142.8 374.8,136.9 376.5,134.9 378.5,137.5 380.5,140.8 381.8,143.5 382.7,140.8 384.0,136.2 385.3,139.5 386.4,144.8 387.7,151.4 389.0,157.3 391.0,161.3 393.0,163.3 394.6,163.9 396.3,158.0 397.6,150.7 398.9,151.4 400.0,154.3 401.2,160.2 402.9,164.3 404.7,166.1 406.4,164.9 407.6,162.5 409.4,154.9 411.1,146.7 412.7,149.1 414.1,156.1 415.2,160.8 417.0,164.3 418.8,167.2 420.5,169.6 421.7,166.7 422.9,158.4 424.0,152.6 425.2,151.4 426.4,153.8 428.1,159.0 429.9,161.4 431.7,163.1 433.4,165.5 434.6,162.5 436.3,155.5 437.5,149.7 439.3,149.7 440.6,155.5" fill="none" stroke="#000" stroke-width="1.8" stroke-linejoin="round"/>
<text x="31.2" y="85.9" font-size="6.7" font-weight="bold" fill="#000" stroke="#000" stroke-width="0.15">1</text>
<text x="44.5" y="85.9" font-size="6.7" font-weight="bold" fill="#000" stroke="#000" stroke-width="0.15">2</text>
<text x="57.8" y="85.9" font-size="6.7" font-weight="bold" fill="#000" stroke="#000" stroke-width="0.15">3</text>
<text x="71.1" y="85.9" font-size="6.7" font-weight="bold" fill="#000" stroke="#000" stroke-width="0.15">4</text>
<text x="84.5" y="85.9" font-size="6.7" font-weight="bold" fill="#000" stroke="#000" stroke-width="0.15">5</text>
<text x="97.8" y="85.9" font-size="6.7" font-weight="bold" fill="#000" stroke="#000" stroke-width="0.15">6</text>
<text x="111.1" y="85.9" font-size="6.7" font-weight="bold" fill="#000" stroke="#000" stroke-width="0.15">7</text>
<text x="124.4" y="85.9" font-size="6.7" font-weight="bold" fill="#000" stroke="#000" stroke-width="0.15">8</text>
<text x="137.7" y="85.9" font-size="6.7" font-weight="bold" fill="#000" stroke="#000" stroke-width="0.15">9</text>
<text x="151.0" y="85.9" font-size="6.7" font-weight="bold" fill="#000" stroke="#000" stroke-width="0.15">10</text>
<text x="164.3" y="85.9" font-size="6.7" font-weight="bold" fill="#000" stroke="#000" stroke-width="0.15">11</text>
<text x="177.6" y="85.9" font-size="6.7" font-weight="bold" fill="#000" stroke="#000" stroke-width="0.15">12</text>
<text x="191.0" y="85.9" font-size="6.7" font-weight="bold" fill="#000" stroke="#000" stroke-width="0.15">13</text>
<text x="204.3" y="85.9" font-size="6.7" font-weight="bold" fill="#000" stroke="#000" stroke-width="0.15">14</text>
<text x="217.6" y="85.9" font-size="6.7" font-weight="bold" fill="#000" stroke="#000" stroke-width="0.15">15</text>
<text x="230.9" y="85.9" font-size="6.7" font-weight="bold" fill="#000" stroke="#000" stroke-width="0.15">16</text>
<text x="244.2" y="85.9" font-size="6.7" font-weight="bold" fill="#000" stroke="#000" stroke-width="0.15">17</text>
<text x="257.5" y="85.9" font-size="6.7" font-weight="bold" fill="#000" stroke="#000" stroke-width="0.15">18</text>
<text x="270.8" y="85.9" font-size="6.7" font-weight="bold" fill="#000" stroke="#000" stroke-width="0.15">19</text>
<text x="284.1" y="85.9" font-size="6.7" font-weight="bold" fill="#000" stroke="#000" stroke-width="0.15">20</text>
<text x="297.5" y="85.9" font-size="6.7" font-weight="bold" fill="#000" stroke="#000" stroke-width="0.15">21</text>
<text x="310.8" y="85.9" font-size="6.7" font-weight="bold" fill="#000" stroke="#000" stroke-width="0.15">22</text>
<text x="324.1" y="85.9" font-size="6.7" font-weight="bold" fill="#000" stroke="#000" stroke-width="0.15">23</text>
<text x="337.4" y="85.9" font-size="6.7" font-weight="bold" fill="#000" stroke="#000" stroke-width="0.15">24</text>
<text x="350.7" y="85.9" font-size="6.7" font-weight="bold" fill="#000" stroke="#000" stroke-width="0.15">25</text>
<text x="364.0" y="85.9" font-size="6.7" font-weight="bold" fill="#000" stroke="#000" stroke-width="0.15">26</text>
<text x="377.3" y="85.9" font-size="6.7" font-weight="bold" fill="#000" stroke="#000" stroke-width="0.15">27</text>
<text x="390.6" y="85.9" font-size="6.7" font-weight="bold" fill="#000" stroke="#000" stroke-width="0.15">28</text>
<text x="404.0" y="85.9" font-size="6.7" font-weight="bold" fill="#000" stroke="#000" stroke-width="0.15">29</text>
<text x="417.3" y="85.9" font-size="6.7" font-weight="bold" fill="#000" stroke="#000" stroke-width="0.15">30</text>
<text x="430.6" y="85.9" font-size="6.7" font-weight="bold" fill="#000" stroke="#000" stroke-width="0.15">31</text>
<polygon points="29.3,315.5 29.3,299.2 29.8,299.4 33.4,301.6 37.0,303.9 40.6,306.6 40.6,315.5" fill="#cccccc"/>
<polygon points="40.6,315.5 40.6,306.6 43.3,309.3 46.4,310.6 49.6,309.7 51.8,307.5 52.3,306.7 52.3,315.5" fill="#0000ff"/>
<polygon points="52.3,315.5 52.3,306.7 54.1,303.9 56.8,300.3 59.0,294.0 59.0,315.5" fill="#cccccc"/>
<polygon points="59.0,315.5 59.0,294.0 60.0,291.0 62.0,285.0 63.6,283.0 65.0,285.0 67.0,287.0 69.0,291.0 71.0,292.0 72.0,295.6 72.5,296.3 72.5,315.5" fill="#ff0000"/>
<polygon points="72.5,315.5 72.5,296.3 76.2,301.2 79.7,301.9 84.7,305.0 88.0,305.2 89.6,305.4 93.1,301.2 94.9,297.7 95.3,292.4 95.6,291.7 95.6,315.5" fill="#cccccc"/>
<polygon points="95.6,315.5 95.6,291.7 97.5,287.2 99.2,289.1 101.2,293.1 103.2,295.1 105.8,293.8 107.8,293.1 109.0,305.9 109.0,315.5" fill="#ff0000"/>
<polygon points="109.0,315.5 109.0,305.9 109.1,307.0 111.1,310.9 113.1,309.6 117.7,307.6 119.0,305.2 119.0,315.5" fill="#0000ff"/>
<polygon points="119.0,315.5 119.0,305.2 120.0,303.4 124.5,304.8 129.0,307.0 129.0,315.5" fill="#cccccc"/>
<polygon points="129.0,315.5 129.0,307.0 134.8,307.0 135.3,306.0 135.3,315.5" fill="#0000ff"/>
<polygon points="135.3,315.5 135.3,306.0 137.0,302.5 139.8,303.4 142.5,304.3 146.0,301.6 149.2,304.3 153.3,301.2 156.9,302.5 158.0,302.0 161.1,304.1 164.0,307.0 164.0,315.5" fill="#cccccc"/>
<polygon points="164.0,315.5 164.0,307.0 164.2,307.2 168.3,309.7 172.4,308.2 174.0,306.8 174.0,315.5" fill="#0000ff"/>
<polygon points="174.0,315.5 174.0,306.8 176.5,304.6 180.6,303.6 183.1,300.5 183.8,295.9 183.8,315.5" fill="#cccccc"/>
<polygon points="183.8,315.5 183.8,295.9 185.0,288.0 186.4,278.0 187.6,272.0 189.0,278.0 191.0,287.0 193.0,297.0 193.5,298.8 193.5,315.5" fill="#ff0000"/>
<polygon points="193.5,315.5 193.5,298.8 195.0,304.0 196.0,306.2 199.1,306.5 202.2,304.6 205.2,302.6 208.3,301.0 211.4,299.5 214.0,298.3 216.0,299.5 218.1,303.6 220.1,307.2 220.3,307.4 220.3,315.5" fill="#cccccc"/>
<polygon points="220.3,315.5 220.3,307.4 221.8,308.7 223.7,307.2 223.7,315.5" fill="#0000ff"/>
<polygon points="223.7,315.5 223.7,307.2 225.7,298.5 226.8,296.0 226.8,315.5" fill="#cccccc"/>
<polygon points="226.8,315.5 226.8,296.0 227.3,294.9 230.9,295.4 234.5,295.2 236.0,296.9 236.8,297.3 236.8,315.5" fill="#ff0000"/>
<polygon points="236.8,315.5 236.8,297.3 238.1,298.0 240.1,300.5 242.2,304.6 243.7,306.9 243.7,315.5" fill="#cccccc"/>
<polygon points="243.7,315.5 243.7,306.9 244.2,307.7 246.3,307.2 246.8,305.8 246.8,315.5" fill="#0000ff"/>
<polygon points="246.8,315.5 246.8,305.8 247.8,303.1 249.8,299.5 252.4,298.0 256.5,296.9 258.8,296.2 258.8,315.5" fill="#cccccc"/>
<polygon points="258.8,315.5 258.8,296.2 259.6,295.9 262.7,295.4 265.7,295.9 266.8,295.1 266.8,315.5" fill="#ff0000"/>
<polygon points="266.8,315.5 266.8,295.1 267.8,294.4 268.6,293.8 268.6,315.5" fill="#cccccc"/>
<polygon points="268.6,315.5 268.6,293.8 269.3,293.3 271.4,292.8 273.9,292.8 275.0,293.5 275.0,315.5" fill="#ff0000"/>
<polygon points="275.0,315.5 275.0,293.5 275.5,293.8 276.0,295.4 278.3,300.9 279.9,305.6 279.9,315.5" fill="#cccccc"/>
<polygon points="279.9,315.5 279.9,305.6 280.7,307.9 282.5,311.5 285.3,309.4 286.9,305.8 286.9,315.5" fill="#0000ff"/>
<polygon points="286.9,315.5 286.9,305.8 287.7,304.0 290.8,297.0 291.8,290.3 291.8,315.5" fill="#cccccc"/>
<polygon points="291.8,315.5 291.8,290.3 292.3,286.9 294.4,282.2 296.2,280.7 297.8,289.2 299.3,296.2 300.1,297.9 300.1,315.5" fill="#ff0000"/>
<polygon points="300.1,315.5 300.1,297.9 302.4,302.7 307.1,301.7 311.8,300.6 316.0,300.0 319.1,300.0 321.6,305.6 322.0,306.1 322.0,315.5" fill="#cccccc"/>
<polygon points="322.0,315.5 322.0,306.1 323.7,308.2 329.3,311.3 331.4,309.7 335.0,310.3 339.6,310.3 343.2,309.2 346.8,306.7 346.8,315.5" fill="#0000ff"/>
<polygon points="346.8,315.5 346.8,306.7 349.8,304.6 356.0,304.1 358.6,302.6 361.1,301.0 362.7,297.4 364.2,296.4 366.3,296.9 368.8,299.0 371.9,300.0 373.9,301.5 376.0,298.5 378.1,299.5 381.1,302.0 384.2,304.1 386.8,305.1 388.8,304.6 391.4,303.4 394.0,304.1 396.0,304.8 399.3,304.8 402.6,305.9 406.8,307.5 406.8,315.5" fill="#cccccc"/>
<polygon points="406.8,315.5 406.8,307.5 407.0,307.6 411.4,308.1 415.8,308.3 419.1,309.8 422.4,310.3 425.2,309.0 427.9,310.1 431.2,309.8 434.0,310.3 436.7,309.2 440.6,308.7 441.0,308.7 441.0,315.5" fill="#0000ff"/>
<polyline points="29.3,299.2 29.8,299.4 33.4,301.6 37.0,303.9 40.6,306.6 43.3,309.3 46.4,310.6 49.6,309.7 51.8,307.5 54.1,303.9 56.8,300.3 59.0,294.0 60.0,291.0 62.0,285.0 63.6,283.0 65.0,285.0 67.0,287.0 69.0,291.0 71.0,292.0 72.0,295.6 76.2,301.2 79.7,301.9 84.7,305.0 88.0,305.2 89.6,305.4 93.1,301.2 94.9,297.7 95.3,292.4 97.5,287.2 99.2,289.1 101.2,293.1 103.2,295.1 105.8,293.8 107.8,293.1 109.1,307.0 111.1,310.9 113.1,309.6 117.7,307.6 120.0,303.4 124.5,304.8 129.0,307.0 134.8,307.0 137.0,302.5 139.8,303.4 142.5,304.3 146.0,301.6 149.2,304.3 153.3,301.2 156.9,302.5 158.0,302.0 161.1,304.1 164.2,307.2 168.3,309.7 172.4,308.2 176.5,304.6 180.6,303.6 183.1,300.5 185.0,288.0 186.4,278.0 187.6,272.0 189.0,278.0 191.0,287.0 193.0,297.0 195.0,304.0 196.0,306.2 199.1,306.5 202.2,304.6 205.2,302.6 208.3,301.0 211.4,299.5 214.0,298.3 216.0,299.5 218.1,303.6 220.1,307.2 221.8,308.7 223.7,307.2 225.7,298.5 227.3,294.9 230.9,295.4 234.5,295.2 236.0,296.9 238.1,298.0 240.1,300.5 242.2,304.6 244.2,307.7 246.3,307.2 247.8,303.1 249.8,299.5 252.4,298.0 256.5,296.9 259.6,295.9 262.7,295.4 265.7,295.9 267.8,294.4 269.3,293.3 271.4,292.8 273.9,292.8 275.5,293.8 276.0,295.4 278.3,300.9 280.7,307.9 282.5,311.5 285.3,309.4 287.7,304.0 290.8,297.0 292.3,286.9 294.4,282.2 296.2,280.7 297.8,289.2 299.3,296.2 302.4,302.7 307.1,301.7 311.8,300.6 316.0,300.0 319.1,300.0 321.6,305.6 323.7,308.2 329.3,311.3 331.4,309.7 335.0,310.3 339.6,310.3 343.2,309.2 346.8,306.7 349.8,304.6 356.0,304.1 358.6,302.6 361.1,301.0 362.7,297.4 364.2,296.4 366.3,296.9 368.8,299.0 371.9,300.0 373.9,301.5 376.0,298.5 378.1,299.5 381.1,302.0 384.2,304.1 386.8,305.1 388.8,304.6 391.4,303.4 394.0,304.1 396.0,304.8 399.3,304.8 402.6,305.9 407.0,307.6 411.4,308.1 415.8,308.3 419.1,309.8 422.4,310.3 425.2,309.0 427.9,310.1 431.2,309.8 434.0,310.3 436.7,309.2 440.6,308.7" fill="none" stroke="#606060" stroke-width="0.8" stroke-linejoin="round"/>
<polyline points="29.3,298.4 29.8,298.5 32.5,299.8 36.1,301.6 38.8,302.5 41.5,305.2 44.2,308.8 46.4,310.2 49.1,309.3 51.4,306.6 53.2,302.5 55.0,297.6 56.8,296.7 58.6,290.4 59.5,285.0 61.0,280.0 62.4,276.0 64.0,274.6 66.0,278.0 68.0,284.0 70.0,286.0 72.0,289.2 74.0,293.5 76.2,297.3 78.0,296.5 80.5,294.2 82.0,296.5 83.3,299.8 86.1,300.1 88.0,299.7 90.3,298.4 92.0,297.1 93.1,294.5 94.6,291.8 96.6,283.2 97.9,275.3 99.2,280.6 101.2,288.5 103.2,291.1 105.8,289.8 107.8,290.5 109.1,300.4 110.7,308.3 112.4,310.3 114.4,308.9 117.0,305.6 120.0,299.8 121.3,299.4 124.5,301.6 127.0,303.5 129.0,305.2 133.5,305.2 135.7,301.2 137.5,296.2 139.3,294.0 141.6,296.7 142.9,298.0 146.0,294.0 147.9,296.7 149.7,301.6 151.5,296.7 153.7,294.4 156.9,296.2 158.0,296.4 161.1,298.5 163.1,302.0 165.2,304.1 168.3,307.7 171.3,306.2 174.4,303.6 176.5,301.5 179.5,300.5 182.1,298.0 183.6,294.4 184.9,286.2 185.9,278.0 186.6,266.0 187.6,264.0 189.0,270.0 190.3,280.0 191.8,288.2 193.9,294.4 195.4,299.0 197.0,300.5 199.1,301.0 202.2,300.0 205.2,297.4 208.8,294.9 211.4,292.3 213.4,289.7 214.5,290.3 216.0,294.4 217.5,295.9 219.1,299.5 220.6,304.6 222.2,306.7 223.7,302.6 225.2,293.3 226.8,287.7 227.8,287.2 228.8,289.7 229.8,291.3 231.4,289.7 232.9,290.3 234.5,289.7 236.0,291.3 238.1,293.3 240.1,298.0 242.2,303.1 244.2,306.5 245.7,305.1 247.3,300.5 249.3,295.9 251.4,293.3 252.9,292.3 254.5,290.8 255.5,291.3 257.0,290.8 259.1,289.2 261.6,288.2 263.7,287.2 265.7,286.2 266.8,286.7 267.8,288.2 269.3,291.8 270.9,288.2 272.4,287.7 274.5,289.2 276.0,291.5 278.3,297.8 280.7,305.5 282.5,311.0 284.6,307.1 287.7,299.3 290.8,291.5 292.8,279.1 294.4,270.6 295.9,276.0 297.8,284.6 300.1,294.7 301.7,299.3 304.0,300.1 306.3,297.8 308.7,299.6 312.5,298.5 316.0,296.9 318.6,296.4 320.6,298.5 321.6,302.6 322.7,306.9 324.7,307.9 327.3,309.2 329.3,310.3 330.9,307.5 332.9,307.7 335.5,309.7 338.1,309.9 340.6,309.5 343.2,307.7 345.7,305.1 348.8,302.6 351.9,301.0 356.0,299.5 358.1,296.9 360.6,294.9 362.7,290.8 364.7,289.2 367.3,289.0 369.3,290.8 372.4,292.8 375.0,294.4 377.0,292.8 379.1,293.8 381.6,296.9 384.2,299.0 386.8,299.7 388.8,301.0 391.4,298.7 393.4,298.5 396.0,298.8 398.8,298.8 401.0,300.4 402.6,302.6 404.8,303.5 407.6,303.7 410.3,303.5 412.5,304.8 415.3,306.5 418.0,308.3 420.8,309.4 422.4,308.7 424.6,307.6 426.8,308.7 429.0,308.3 431.8,309.0 434.5,309.4 436.7,308.1 439.0,306.5 440.6,306.1" fill="none" stroke="#ff0000" stroke-width="1.6" stroke-linejoin="round" clip-path="url(#cBot)"/>
<rect x="28.5" y="11.5" width="415.2" height="55.0" fill="none" stroke="#9a9a9a" stroke-width="1"/>
<polyline points="28.5,80.5 28.5,249.9 443.7,249.9" fill="none" stroke="#9a9a9a" stroke-width="1"/>
<rect x="28.5" y="263.5" width="415.2" height="52.0" fill="none" stroke="#9a9a9a" stroke-width="1"/>
<text x="25.1" y="15.0" font-size="8" fill="#262626" stroke="#262626" stroke-width="0.25" text-anchor="end">10</text>
<text x="25.1" y="42.0" font-size="8" fill="#262626" stroke="#262626" stroke-width="0.25" text-anchor="end">0</text>
<text x="25.1" y="70.0" font-size="8" fill="#262626" stroke="#262626" stroke-width="0.25" text-anchor="end">-10</text>
<text x="28.2" y="77.9" font-size="8" fill="#262626" stroke="#262626" stroke-width="0.25" text-anchor="middle">0</text>
<text x="83.7" y="77.9" font-size="8" fill="#262626" stroke="#262626" stroke-width="0.25" text-anchor="middle">100</text>
<text x="139.1" y="77.9" font-size="8" fill="#262626" stroke="#262626" stroke-width="0.25" text-anchor="middle">200</text>
<text x="194.6" y="77.9" font-size="8" fill="#262626" stroke="#262626" stroke-width="0.25" text-anchor="middle">300</text>
<text x="250.1" y="77.9" font-size="8" fill="#262626" stroke="#262626" stroke-width="0.25" text-anchor="middle">400</text>
<text x="305.5" y="77.9" font-size="8" fill="#262626" stroke="#262626" stroke-width="0.25" text-anchor="middle">500</text>
<text x="361.0" y="77.9" font-size="8" fill="#262626" stroke="#262626" stroke-width="0.25" text-anchor="middle">600</text>
<text x="416.5" y="77.9" font-size="8" fill="#262626" stroke="#262626" stroke-width="0.25" text-anchor="middle">700</text>
<text x="25.1" y="84.0" font-size="8" fill="#262626" stroke="#262626" stroke-width="0.25" text-anchor="end">10</text>
<text x="25.1" y="112.2" font-size="8" fill="#262626" stroke="#262626" stroke-width="0.25" text-anchor="end">0</text>
<text x="25.1" y="140.5" font-size="8" fill="#262626" stroke="#262626" stroke-width="0.25" text-anchor="end">-10</text>
<text x="25.1" y="168.7" font-size="8" fill="#262626" stroke="#262626" stroke-width="0.25" text-anchor="end">-20</text>
<text x="25.1" y="196.9" font-size="8" fill="#262626" stroke="#262626" stroke-width="0.25" text-anchor="end">-30</text>
<text x="25.1" y="225.2" font-size="8" fill="#262626" stroke="#262626" stroke-width="0.25" text-anchor="end">-40</text>
<text x="25.1" y="253.4" font-size="8" fill="#262626" stroke="#262626" stroke-width="0.25" text-anchor="end">-50</text>
<text x="28.2" y="260.7" font-size="8" fill="#262626" stroke="#262626" stroke-width="0.25" text-anchor="middle">0</text>
<text x="83.7" y="260.7" font-size="8" fill="#262626" stroke="#262626" stroke-width="0.25" text-anchor="middle">100</text>
<text x="139.1" y="260.7" font-size="8" fill="#262626" stroke="#262626" stroke-width="0.25" text-anchor="middle">200</text>
<text x="194.6" y="260.7" font-size="8" fill="#262626" stroke="#262626" stroke-width="0.25" text-anchor="middle">300</text>
<text x="250.1" y="260.7" font-size="8" fill="#262626" stroke="#262626" stroke-width="0.25" text-anchor="middle">400</text>
<text x="305.5" y="260.7" font-size="8" fill="#262626" stroke="#262626" stroke-width="0.25" text-anchor="middle">500</text>
<text x="361.0" y="260.7" font-size="8" fill="#262626" stroke="#262626" stroke-width="0.25" text-anchor="middle">600</text>
<text x="416.5" y="260.7" font-size="8" fill="#262626" stroke="#262626" stroke-width="0.25" text-anchor="middle">700</text>
<text x="25.1" y="267.0" font-size="8" fill="#262626" stroke="#262626" stroke-width="0.25" text-anchor="end">1.5</text>
<text x="25.1" y="284.3" font-size="8" fill="#262626" stroke="#262626" stroke-width="0.25" text-anchor="end">1</text>
<text x="25.1" y="301.7" font-size="8" fill="#262626" stroke="#262626" stroke-width="0.25" text-anchor="end">0.5</text>
<text x="25.1" y="319.0" font-size="8" fill="#262626" stroke="#262626" stroke-width="0.25" text-anchor="end">0</text>
<text x="28.2" y="327.3" font-size="8" fill="#262626" stroke="#262626" stroke-width="0.25" text-anchor="middle">0</text>
<text x="83.7" y="327.3" font-size="8" fill="#262626" stroke="#262626" stroke-width="0.25" text-anchor="middle">100</text>
<text x="139.1" y="327.3" font-size="8" fill="#262626" stroke="#262626" stroke-width="0.25" text-anchor="middle">200</text>
<text x="194.6" y="327.3" font-size="8" fill="#262626" stroke="#262626" stroke-width="0.25" text-anchor="middle">300</text>
<text x="250.1" y="327.3" font-size="8" fill="#262626" stroke="#262626" stroke-width="0.25" text-anchor="middle">400</text>
<text x="305.5" y="327.3" font-size="8" fill="#262626" stroke="#262626" stroke-width="0.25" text-anchor="middle">500</text>
<text x="361.0" y="327.3" font-size="8" fill="#262626" stroke="#262626" stroke-width="0.25" text-anchor="middle">600</text>
<text x="416.5" y="327.3" font-size="8" fill="#262626" stroke="#262626" stroke-width="0.25" text-anchor="middle">700</text>
<text transform="translate(9.6,39) rotate(-90)" font-size="9" fill="#262626" stroke="#262626" stroke-width="0.25" text-anchor="middle">Δ T [K]</text>
<text transform="translate(9.4,164.5) rotate(-90)" font-size="9" fill="#262626" stroke="#262626" stroke-width="0.25" text-anchor="middle">SAT [<tspan font-size="6" dy="-3">o</tspan><tspan dy="3">C]</tspan></text>
<text transform="translate(9.6,289.5) rotate(-90)" font-size="9" fill="#262626" stroke="#262626" stroke-width="0.25" text-anchor="middle">h [km]</text>
<text x="236" y="338.5" font-size="9" fill="#262626" stroke="#262626" stroke-width="0.25" text-anchor="middle">time [hours]</text>
<text x="236.2" y="8.9" font-size="8.85" font-weight="bold" fill="#000" text-anchor="middle">Station WMO ID 28573; coordinates: 56<tspan font-size="7" dy="-3.8">o</tspan><tspan dy="3.8">N 69</tspan><tspan font-size="7" dy="-3.8">o</tspan><tspan dy="3.8">E</tspan></text>
</svg></body></html>
